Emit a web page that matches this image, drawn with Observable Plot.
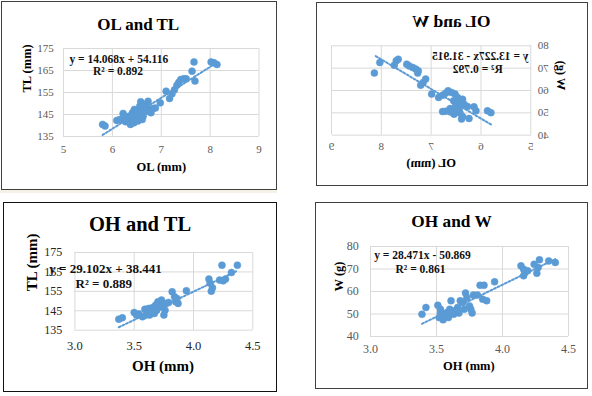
<!DOCTYPE html>
<html>
<head>
<meta charset="utf-8">
<script src="https://cdn.jsdelivr.net/npm/d3@7"></script>
<script src="https://cdn.jsdelivr.net/npm/@observablehq/plot@0.6"></script>
<style>
  html, body { margin: 0; padding: 0; background: #fff; }
  body { width: 592px; height: 396px; position: relative; overflow: hidden; }
  .panel { position: absolute; box-sizing: border-box; border: 1px solid #404040; background: #fff; }
  .panel svg { display: block; }
  .strip { position: absolute; left: 0; top: 190px; width: 277px; height: 3px; background: #f6f1e7; }
</style>
</head>
<body>
<div class="strip"></div>
<div id="p1" class="panel" style="left:1px;top:1px;width:276px;height:189px;"></div>
<div id="p2" class="panel" style="left:316px;top:2px;width:272px;height:184px;transform:scaleX(-1);"></div>
<div id="p3" class="panel" style="left:3px;top:202px;width:274px;height:190px;border-color:#111;"></div>
<div id="p4" class="panel" style="left:315px;top:202px;width:273px;height:187px;"></div>
<script>
// ---------- data ----------
// Panel 1: OL (mm) vs TL (mm)
const olTL_ol = [5.80,5.85,6.09,6.15,6.22,6.25,6.27,6.34,6.39,6.41,6.44,6.45,6.49,6.52,6.56,6.58,6.60,6.63,6.66,6.70,6.73,6.77,6.79,6.83,6.88,6.37,6.31,6.47,6.54,6.64,6.71,6.61,6.51,6.98,7.10,7.17,7.22,7.27,7.32,7.36,7.40,7.46,7.51,7.63,7.67,7.69,8.02,8.08,8.14];
const olTL_tl = [140.5,139.8,142.3,142.7,145.5,143.2,141.7,144.2,142.3,145.8,141.2,147.3,144.2,142.0,148.8,150.8,146.5,144.2,149.5,148.3,151.0,147.3,145.8,147.7,148.0,140.5,142.0,142.7,145.0,146.5,146.5,142.7,146.5,150.3,155.6,152.3,154.4,156.2,158.3,159.7,160.9,161.2,161.2,164.7,168.9,160.2,168.9,168.5,167.7];
// Panel 2: OL (mm) vs W (g)
const olW_ol = [8.14,8.03,7.74,7.70,7.66,7.49,7.44,7.37,7.31,7.27,7.26,7.21,7.16,7.11,6.99,6.85,6.77,6.71,6.66,6.59,6.52,6.47,6.55,6.44,6.37,6.34,6.27,6.47,6.62,6.77,6.71,6.61,6.51,6.42,6.37,6.39,6.24,6.14,6.10,6.51,6.44,6.54,5.87,5.80];
const olW_w  = [67.8,72.5,71.3,73.3,74.0,71.8,71.0,70.3,69.6,67.8,68.8,62.4,63.6,65.1,58.4,56.9,57.9,58.8,59.9,59.1,58.4,56.9,55.4,54.9,56.1,53.9,52.8,52.4,51.9,50.6,50.7,50.4,51.0,49.9,48.4,47.2,47.5,52.7,50.9,53.1,51.6,49.4,50.9,50.1];
// Panel 3: OH (mm) vs TL (mm)
const ohTL_oh = [3.37,3.40,3.50,3.52,3.54,3.57,3.59,3.61,3.62,3.63,3.65,3.66,3.68,3.69,3.70,3.72,3.73,3.74,3.75,3.76,3.77,3.79,3.82,3.84,3.85,3.87,3.86,3.94,3.60,3.63,3.67,3.70,4.13,4.14,4.16,4.15,4.22,4.25,4.27,4.24,4.32,4.37];
const ohTL_tl = [140.7,141.4,144.1,142.8,143.4,141.9,145.8,144.1,146.2,142.8,146.5,144.8,147.9,145.3,149.6,147.9,150.5,147.1,142.8,145.3,148.8,149.3,154.8,152.2,149.6,148.8,151.3,155.3,142.8,144.1,143.6,146.5,161.3,159.2,156.8,155.1,160.8,160.4,161.3,168.5,164.7,168.5];
// Panel 4: OH (mm) vs W (g)
const ohW_oh = [3.39,3.42,3.51,3.53,3.53,3.52,3.55,3.56,3.58,3.60,3.61,3.63,3.65,3.66,3.67,3.68,3.70,3.71,3.72,3.73,3.75,3.76,3.77,3.78,3.81,3.83,3.86,3.85,3.88,3.94,3.56,3.59,3.62,4.14,4.16,4.17,4.16,4.19,4.24,4.26,4.27,4.28,4.35,4.40];
const ohW_w  = [49.9,52.9,53.9,52.1,50.4,48.4,47.4,48.9,50.7,52.1,55.9,49.9,51.4,52.9,50.4,55.9,55.1,52.1,59.3,57.3,53.6,52.1,50.4,58.4,58.4,62.8,62.8,56.6,55.9,64.3,49.9,48.4,51.4,71.4,69.9,68.4,67.0,69.2,72.1,68.1,70.7,74.1,73.6,72.9];

// Titles, axis labels, trendline coefficients, equation labels
const titles = ["OL and TL", "OL and W", "OH and TL", "OH and W"];
const xLabels = ["OL (mm)", "OL (mm)", "OH (mm)", "OH (mm)"];
const yLabels = ["TL (mm)", "W (g)", "TL (mm)", "W (g)"];
const slopes = [14.068, 13.227, 29.102, 28.471];
const intercepts = [54.116, -31.915, 38.441, -50.869];
const eqLabels = ["y = 14.068x + 54.116", "y = 13.227x - 31.915", "y = 29.102x + 38.441", "y = 28.471x - 50.869"];
const r2Labels = ["R\u00b2 = 0.892", "R\u00b2 = 0.792", "R\u00b2 = 0.889", "R\u00b2 = 0.861"];
const olTicks = [5, 6, 7, 8, 9];
const ohTicks = [3.0, 3.5, 4.0, 4.5];
const tlTicks = [135, 145, 155, 165, 175];
const wTicks = [40, 50, 60, 70, 80];

const BLUE = "#5b9bd5";
const FONT = "'Liberation Serif', 'Times New Roman', serif";

function panel(i, xs, ys, xTicks, yTicks, o) {
  const data = xs.map((x, k) => ({x, y: ys[k]}));
  const trend = d3.extent(xs).map(x => ({x, y: slopes[i] * x + intercepts[i]}));
  const chart = Plot.plot({
    width: o.w, height: o.h,
    marginLeft: o.ml, marginRight: o.mr, marginTop: o.mt, marginBottom: o.mb,
    x: {domain: d3.extent(xTicks)},
    y: {domain: d3.extent(yTicks)},
    style: {fontFamily: FONT, background: "transparent", overflow: "visible"},
    marks: [
      Plot.gridX(xTicks, {stroke: "#d9d9d9", strokeOpacity: 1}),
      Plot.gridY(yTicks, {stroke: "#d9d9d9", strokeOpacity: 1}),
      Plot.axisX(xTicks, {tickSize: 0, tickPadding: o.xPad, fontSize: o.xTickSize, fill: o.tickColor, label: null, tickFormat: o.xFmt}),
      Plot.axisY(yTicks, {tickSize: 0, tickPadding: o.yPad, fontSize: o.yTickSize, fill: o.tickColor, label: null}),
      Plot.dot(data, {x: "x", y: "y", r: 3.5, fill: BLUE, stroke: BLUE, strokeWidth: 0.5}),
      Plot.line(trend, {x: "x", y: "y", stroke: BLUE, strokeWidth: 2, strokeDasharray: "2,2"}),
      Plot.text([titles[i]], {text: d => d, frameAnchor: "top", dx: o.tDx, dy: o.tDy, lineAnchor: "bottom", fontSize: o.tSize, fontWeight: "bold", fill: "#000"}),
      Plot.text([xLabels[i]], {text: d => d, frameAnchor: "bottom", dx: o.xlDx || 0, dy: o.xlDy, lineAnchor: "bottom", fontSize: o.lSize, fontWeight: "bold", fill: "#000"}),
      Plot.text([yLabels[i]], {text: d => d, frameAnchor: "left", dx: o.ylDx, rotate: -90, lineAnchor: "middle", fontSize: o.lSize, fontWeight: "bold", fill: "#000"}),
      Plot.text([eqLabels[i]], {text: d => d, frameAnchor: "top-left", dx: o.eDx, dy: o.eDy, textAnchor: "middle", lineAnchor: "bottom", fontSize: o.eSize, fontWeight: "bold", fill: "#111"}),
      Plot.text([r2Labels[i]], {text: d => d, frameAnchor: "top-left", dx: o.rDx, dy: o.rDy, textAnchor: "middle", lineAnchor: "bottom", fontSize: o.eSize, fontWeight: "bold", fill: "#111"})
    ]
  });
  document.getElementById(o.id).appendChild(chart);
}

panel(0, olTL_ol, olTL_tl, olTicks, tlTicks, {
  id: "p1", w: 274, h: 187, ml: 61, mr: 17.5, mt: 46, mb: 53,
  xPad: 9, yPad: 9.7, xTickSize: 11, yTickSize: 11, tickColor: "#595959",
  tSize: 17, tDx: -23, tDy: -18.3, lSize: 12.5, xlDy: 34.7, ylDx: -36.3,
  eSize: 11.5, eDx: 55.3, eDy: 14, rDx: 54.5, rDy: 26
});
panel(1, olW_ol, olW_w, olTicks, wTicks, {
  id: "p2", w: 270, h: 182, ml: 55.7, mr: 15, mt: 42.3, mb: 50.3,
  xPad: 6.8, yPad: 7, xTickSize: 11, yTickSize: 11, tickColor: "#595959",
  tSize: 17.5, tDx: -20, tDy: -19.3, lSize: 12.5, xlDy: 32, ylDx: -30.4,
  eSize: 11.5, eDx: 50.5, eDy: 14.2, rDx: 53, rDy: 26.8
});
panel(2, ohTL_oh, ohTL_tl, ohTicks, tlTicks, {
  id: "p3", w: 272, h: 188, ml: 70.4, mr: 23.7, mt: 49, mb: 61.3,
  xPad: 10.7, yPad: 12.7, xTickSize: 12.5, yTickSize: 12, tickColor: "#262626", xFmt: ".1f",
  tSize: 20.5, tDx: -23.85, tDy: -21.3, lSize: 15, xlDx: -0.85, xlDy: 40.3, ylDx: -42.4,
  eSize: 13, eDx: 30.6, eDy: 20.7, rDx: 28.9, rDy: 35.3
});
panel(3, ohW_oh, ohW_w, ohTicks, wTicks, {
  id: "p4", w: 271, h: 185, ml: 54, mr: 19, mt: 43, mb: 52,
  xPad: 8.2, yPad: 11.7, xTickSize: 12, yTickSize: 12, tickColor: "#595959", xFmt: ".1f",
  tSize: 17.3, tDx: -18, tDy: -19.3, lSize: 12.5, xlDx: -0.7, xlDy: 33, ylDx: -31.7,
  eSize: 11.5, eDx: 52, eDy: 12, rDx: 50, rDy: 26
});
</script>
</body>
</html>
